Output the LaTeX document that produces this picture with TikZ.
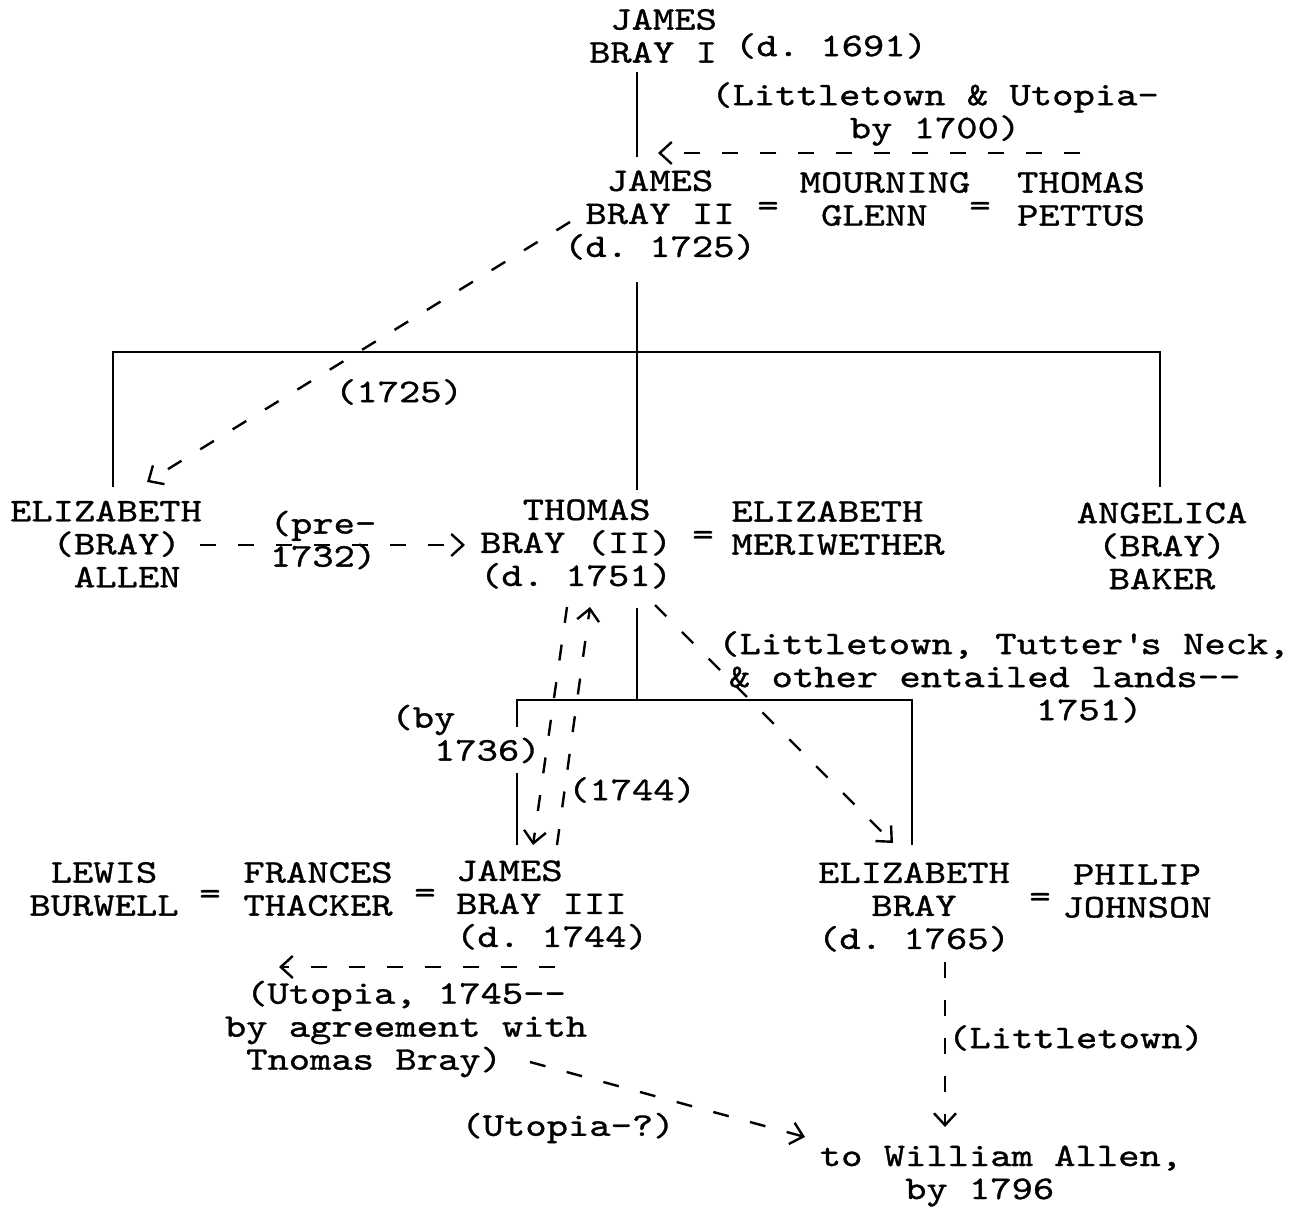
\documentclass[tikz,border=0pt]{standalone}
\usepackage{fontspec}
\setmonofont{lmmono10-regular}[Extension=.otf,FakeStretch=1.23,FakeBold=1]
\usetikzlibrary{arrows.meta}
\newlength\chw
\newcommand\ind[1]{\settowidth{\chw}{x}\hspace*{#1\chw}}
\tikzset{
  lbl/.style={inner sep=0pt, font=\ttfamily\fontsize{16.5}{16.5}\selectfont},
  ml/.style={lbl, align=left},
  mc/.style={lbl, align=center},
  tree/.style={line width=1pt},
  flow/.style={line width=1.2pt, dash pattern=on 8pt off 11pt,
    -{Straight Barb[length=6pt,width=11pt,line width=1.2pt]}},
}
\begin{document}
\begin{tikzpicture}[x=0.5pt,y=-0.5pt]
\useasboundingbox (0,0) rectangle (1300,1208);
% ---- people ----
\node[ml] (jb1) at (653,36) {\ind1JAMES\\BRAY I};
\node[lbl] (d1691) at (831,46) {(d. 1691)};
\node[mc] (lu) at (935,114) {(Littletown \& Utopia-\\by 1700)};
\node[mc] (jb2) at (660,215) {JAMES\\BRAY II\\(d. 1725)};
\node[lbl] (eq1) at (768,209) {=};
\node[ml] (mg) at (885,199) {MOURNING\\\ind1GLENN};
\node[lbl] (eq2) at (980,209) {=};
\node[mc] (tp) at (1081,199) {THOMAS\\PETTUS};
\node[ml] (ea) at (106,544) {ELIZABETH\\\ind2(BRAY)\\\ind3ALLEN};
\node[ml] (pre) at (323,540) {(pre-\\1732)};
\node[ml] (tb) at (576,544) {\ind2THOMAS\\BRAY (II)\\(d. 1751)};
\node[lbl] (eq3) at (703,538) {=};
\node[ml] (em) at (838,528) {ELIZABETH\\MERIWETHER};
\node[mc] (ab) at (1162,546) {ANGELICA\\(BRAY)\\BAKER};
\node[lbl] (l1725) at (399,392) {(1725)};
\node[ml] (by1736) at (466,734) {(by\\\ind1 1736)};
\node[lbl] (l1744) at (632,790) {(1744)};
\node[ml] (ltn) at (1004,677) {(Littletown, Tutter\textquotesingle s Neck,\\\ind{0.5}\& other entailed lands-{}-\\\ind{14.9}1751)};
\node[mc] (lb) at (104,889) {LEWIS\\BURWELL};
\node[lbl] (eq4) at (210,897) {=};
\node[mc] (ft) at (318,889) {FRANCES\\THACKER};
\node[lbl] (eq5) at (425,896) {=};
\node[ml] (jb3) at (552,905) {JAMES\\BRAY III\\(d. 1744)};
\node[mc] (eb) at (914,907) {ELIZABETH\\BRAY\\(d. 1765)};
\node[lbl] (eq6) at (1040,900) {=};
\node[mc] (pj) at (1137,891) {PHILIP\\JOHNSON};
\node[ml] (ut) at (406,1029) {\ind1(Utopia, 1745-{}-\\by agreement with\\\ind1Tnomas Bray)};
\node[lbl] (uq) at (568,1128) {(Utopia-?)};
\node[ml] (wa) at (1001,1176) {to William Allen,\\\ind4by 1796};
\node[lbl] (lt) at (1076,1038) {(Littletown)};
% ---- tree coordinates ----
\coordinate (a1) at (637,72);
\coordinate (a2) at (637,157);
\coordinate (b1) at (637,282);
\coordinate (b2) at (637,352);
\coordinate (b3) at (637,490);
\coordinate (bl) at (113,352);
\coordinate (bl2) at (113,487);
\coordinate (br) at (1160,352);
\coordinate (br2) at (1160,487);
\coordinate (c1) at (637,608);
\coordinate (c2) at (637,700);
\coordinate (cl) at (517,700);
\coordinate (cl2) at (517,727);
\coordinate (cl3) at (517,773);
\coordinate (cl4) at (517,845);
\coordinate (cr) at (912,700);
\coordinate (cr2) at (912,845);
% ---- tree ----
\draw[tree] (a1) -- (a2);
\draw[tree] (b1) -- (b3);
\draw[tree] (bl2) -- (bl) -- (br) -- (br2);
\draw[tree] (c1) -- (c2);
\draw[tree] (cl2) -- (cl) -- (cr) -- (cr2);
\draw[tree] (cl3) -- (cl4);
% ---- flow coordinates ----
\coordinate (f1s) at (1080,153);
\coordinate (f1e) at (658,153);
\coordinate (f2s) at (570,222);
\coordinate (f2e) at (147,482);
\coordinate (f3s) at (200,545);
\coordinate (f3e) at (465,545);
\coordinate (f4s) at (567,607);
\coordinate (f4e) at (533,845);
\coordinate (f5s) at (557,845);
\coordinate (f5e) at (590,607);
\coordinate (f6s) at (655,605);
\coordinate (f6e) at (893,843);
\coordinate (f7s) at (555,967);
\coordinate (f7e) at (279,967);
\coordinate (f8s) at (530,1062);
\coordinate (f8e) at (805,1137);
\coordinate (f9s) at (945,962);
\coordinate (f9e) at (945,1127);
% ---- flows ----
\draw[flow] (f1s) -- (f1e);
\draw[flow] (f2s) -- (f2e);
\draw[flow] (f3s) -- (f3e);
\draw[flow] (f4s) -- (f4e);
\draw[flow] (f5s) -- (f5e);
\draw[flow] (f6s) -- (f6e);
\draw[flow] (f7s) -- (f7e);
\draw[flow] (f8s) -- (f8e);
\draw[flow] (f9s) -- (f9e);
\end{tikzpicture}
\end{document}
